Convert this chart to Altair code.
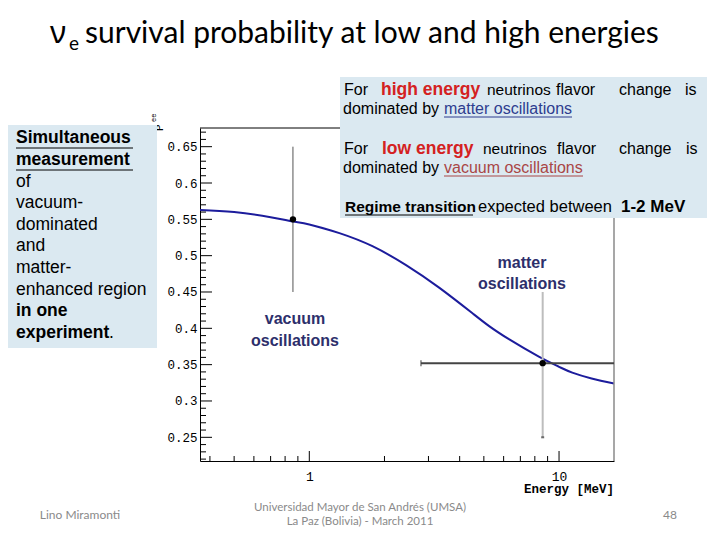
import altair as alt
import pandas as pd

# ---------------- data ----------------
curve_energy = [0.365, 0.5, 0.7, 0.86, 1.0, 1.32, 1.79, 2.44, 3.31, 4.49, 5.25, 6.3, 8.3, 10.0, 11.3, 13.5, 16.6]
curve_prob = [0.563, 0.560, 0.553, 0.547, 0.543, 0.531, 0.513, 0.487, 0.456, 0.421, 0.403, 0.385, 0.361, 0.347, 0.339, 0.331, 0.324]

point_energy = [0.86, 8.6]
point_prob = [0.55, 0.352]
err_low = [0.45, 0.25]
err_high = [0.65, 0.45]
matter_energy_low = [2.8]
matter_energy_high = [16.6]

y_major = [0.25, 0.3, 0.35, 0.4, 0.45, 0.5, 0.55, 0.6, 0.65]
y_minor = [0.22, 0.23, 0.24, 0.26, 0.27, 0.28, 0.29, 0.31, 0.32, 0.33, 0.34,
           0.36, 0.37, 0.38, 0.39, 0.41, 0.42, 0.43, 0.44, 0.46, 0.47, 0.48, 0.49,
           0.51, 0.52, 0.53, 0.54, 0.56, 0.57, 0.58, 0.59, 0.61, 0.62, 0.63, 0.64,
           0.66, 0.67]
x_major = [1, 10]
x_minor = [0.4, 0.5, 0.6, 0.7, 0.8, 0.9, 2, 3, 4, 5, 6, 7, 8, 9]

# ---------------- layout ----------------
W, H = 414, 333
OX, OY = 200, 128
XDOM = [0.365, 16.6]
YDOM = [0.2174, 0.6757]
MONO = "Liberation Mono"
SANS = "Liberation Sans"

xs = alt.Scale(type="log", domain=XDOM, nice=False, zero=False)
ys = alt.Scale(domain=YDOM, nice=False, zero=False)

curve_df = pd.DataFrame({"E": curve_energy, "P": curve_prob})
pts_df = pd.DataFrame({"E": point_energy, "P": point_prob, "lo": err_low, "hi": err_high})
herr_df = pd.DataFrame({"E": matter_energy_low, "E2": matter_energy_high, "P": [point_prob[1]]})
ymaj_df = pd.DataFrame({"v": y_major})
ymin_df = pd.DataFrame({"v": y_minor})
xmaj_df = pd.DataFrame({"v": x_major})
xmin_df = pd.DataFrame({"v": x_minor})

ONE = alt.Data(values=[{"a": 1}])


def txt(s, x, y, size=16, font=SANS, weight="normal", color="black",
        align="left", baseline="middle", angle=0):
    return alt.Chart(ONE).mark_text(
        text=s, font=font, fontSize=size, fontWeight=weight, color=color,
        align=align, baseline=baseline, angle=angle
    ).encode(x=alt.value(x - OX), y=alt.value(y - OY))


def box(x1, x2, y1, y2, color):
    return alt.Chart(ONE).mark_rect(color=color).encode(
        x=alt.value(x1 - OX), x2=alt.value(x2 - OX),
        y=alt.value(y1 - OY), y2=alt.value(y2 - OY))


def hline(x1, x2, y, color="black", w=1.0):
    return alt.Chart(ONE).mark_rule(color=color, strokeWidth=w).encode(
        x=alt.value(x1 - OX), x2=alt.value(x2 - OX), y=alt.value(y - OY))


def vline(x, y1, y2, color="black", w=1.0):
    return alt.Chart(ONE).mark_rule(color=color, strokeWidth=w).encode(
        x=alt.value(x - OX), y=alt.value(y1 - OY), y2=alt.value(y2 - OY))


# ---------------- plot layers ----------------
curve = alt.Chart(curve_df).mark_line(color="#1c1c9c", strokeWidth=2, interpolate="natural").encode(
    x=alt.X("E:Q", scale=xs, axis=alt.Axis(
        values=x_major, format="~g", ticks=False, grid=False, title=None,
        labelFont=MONO, labelFontSize=13, labelColor="black", labelPadding=9,
        domainColor="black", domainWidth=1)),
    y=alt.Y("P:Q", scale=ys, axis=alt.Axis(
        values=y_major, format=".2~f", ticks=False, grid=False, title=None,
        labelFont=MONO, labelFontSize=12.5, labelColor="black", labelPadding=3,
        domainColor="black", domainWidth=1)),
)

vac_bar = alt.Chart(pts_df.iloc[[0]]).mark_rule(color="#555555", strokeWidth=1).encode(
    x=alt.X("E:Q", scale=xs), y=alt.Y("lo:Q", scale=ys), y2="hi:Q")
mat_bar = alt.Chart(pts_df.iloc[[1]]).mark_rule(color="#bdbdbd", strokeWidth=2).encode(
    x=alt.X("E:Q", scale=xs), y=alt.Y("lo:Q", scale=ys), y2="hi:Q")
mat_cap = alt.Chart(pts_df.iloc[[1]]).mark_tick(color="#333333", orient="horizontal", size=3, thickness=2).encode(
    x=alt.X("E:Q", scale=xs), y=alt.Y("lo:Q", scale=ys))
h_bar = alt.Chart(herr_df).mark_rule(color="#444444", strokeWidth=2).encode(
    x=alt.X("E:Q", scale=xs), x2="E2:Q", y=alt.Y("P:Q", scale=ys))
h_cap = alt.Chart(herr_df).mark_tick(color="#444444", orient="vertical", size=6, thickness=1.5).encode(
    x=alt.X("E:Q", scale=xs), y=alt.Y("P:Q", scale=ys))
points = alt.Chart(pts_df).mark_circle(color="black", opacity=1, size=40).encode(
    x=alt.X("E:Q", scale=xs), y=alt.Y("P:Q", scale=ys))

ytick_major = alt.Chart(ymaj_df).mark_rule(color="black", strokeWidth=1).encode(
    y=alt.Y("v:Q", scale=ys), x=alt.value(0), x2=alt.value(12))
ytick_minor = alt.Chart(ymin_df).mark_rule(color="black", strokeWidth=1).encode(
    y=alt.Y("v:Q", scale=ys), x=alt.value(0), x2=alt.value(6))
xtick_major = alt.Chart(xmaj_df).mark_rule(color="black", strokeWidth=1).encode(
    x=alt.X("v:Q", scale=xs), y=alt.value(H), y2=alt.value(H - 10))
xtick_minor = alt.Chart(xmin_df).mark_rule(color="black", strokeWidth=1).encode(
    x=alt.X("v:Q", scale=xs), y=alt.value(H), y2=alt.value(H - 5))

frame_top = hline(OX, OX + W, OY, "black", 1)
frame_right = vline(OX + W, OY, OY + H, "#8a8a8a", 1.5)

# ---------------- annotations ----------------
BOXC = "#dbe9f1"
RED = "#d42121"
layers = [
    curve,
    ytick_minor, ytick_major, xtick_minor, xtick_major, frame_top, frame_right,
    vac_bar, mat_bar, mat_cap, h_bar, h_cap, points,
    # axis titles
    txt("P", 160, 131, size=11, font=MONO, angle=270),
    txt("ee", 154, 122, size=7, font=MONO, angle=270),
    txt("Energy [MeV]", 614, 489, size=12.5, font=MONO, weight="bold", align="right"),
    # left box
    box(8, 157, 125, 348, BOXC),
    txt("Simultaneous", 16, 138, size=17.5, weight="bold"),
    hline(16, 133, 148),
    txt("measurement", 16, 160, size=17.5, weight="bold"),
    hline(16, 133, 170),
    txt("of", 16, 182, size=17.5),
    txt("vacuum-", 16, 203, size=17.5),
    txt("dominated", 16, 225, size=17.5),
    txt("and", 16, 246, size=17.5),
    txt("matter-", 16, 268, size=17.5),
    txt("enhanced region", 16, 290, size=17.5),
    txt("in one", 16, 311, size=17.5, weight="bold"),
    txt("experiment", 16, 333, size=17.5, weight="bold"),
    txt(".", 109, 333, size=17.5),
    # top right box
    box(340, 707, 77, 218, BOXC),
    txt("For", 344, 90), txt("high energy", 381, 90, size=17.5, weight="bold", color=RED),
    txt("neutrinos", 487, 90, size=15.5), txt("flavor", 556, 90), txt("change", 619, 90), txt("is", 685, 90),
    txt("dominated by", 343, 109), txt("matter oscillations", 444, 109, color="#2e3d8f"),
    hline(444, 572, 117, "#2e3d8f"),
    txt("For", 344, 149), txt("low energy", 382, 149, size=17.5, weight="bold", color=RED),
    txt("neutrinos", 483, 149, size=15.5), txt("flavor", 557, 149), txt("change", 619, 149), txt("is", 686, 149),
    txt("dominated by", 343, 168), txt("vacuum oscillations", 444, 168, color="#a94646"),
    hline(444, 583, 176, "#a94646"),
    txt("Regime transition", 345, 207, size=15.5, weight="bold"),
    hline(345, 473, 215),
    txt("expected between", 478, 207, size=16.5), txt("1-2 MeV", 621, 207, size=17, weight="bold"),
    # region labels
    txt("matter", 522, 263, size=16, weight="bold", color="#2d2f6b", align="center"),
    txt("oscillations", 522, 284, size=16, weight="bold", color="#2d2f6b", align="center"),
    txt("vacuum", 295, 319, size=16, weight="bold", color="#2d2f6b", align="center"),
    txt("oscillations", 295, 341, size=16, weight="bold", color="#2d2f6b", align="center"),
    # slide title
    txt("ν", 50, 34, size=31, font="Noto Sans"),
    txt("e", 69, 44, size=19, font="Lato"),
    txt("survival probability at low and high energies", 85, 34, size=30, font="Lato"),
    # footer
    txt("Lino Miramonti", 80, 515, size=12, font="Lato", color="#8a8a8a", align="center"),
    txt("Universidad Mayor de San Andrés (UMSA)", 360, 508, size=11.5, font="Lato", color="#8a8a8a", align="center"),
    txt("La Paz (Bolivia) - March 2011", 360, 522, size=11.5, font="Lato", color="#8a8a8a", align="center"),
    txt("48", 670, 515, size=12, font="Lato", color="#8a8a8a", align="center"),
]

chart = alt.layer(*layers).properties(
    width=W, height=H,
    autosize=alt.AutoSizeParams(type="none"),
    padding={"left": 192, "top": 120, "right": 98, "bottom": 71},
    background="white",
).configure_view(stroke=None)

chart.save("out.html", embed_options={"renderer": "svg", "actions": False})
